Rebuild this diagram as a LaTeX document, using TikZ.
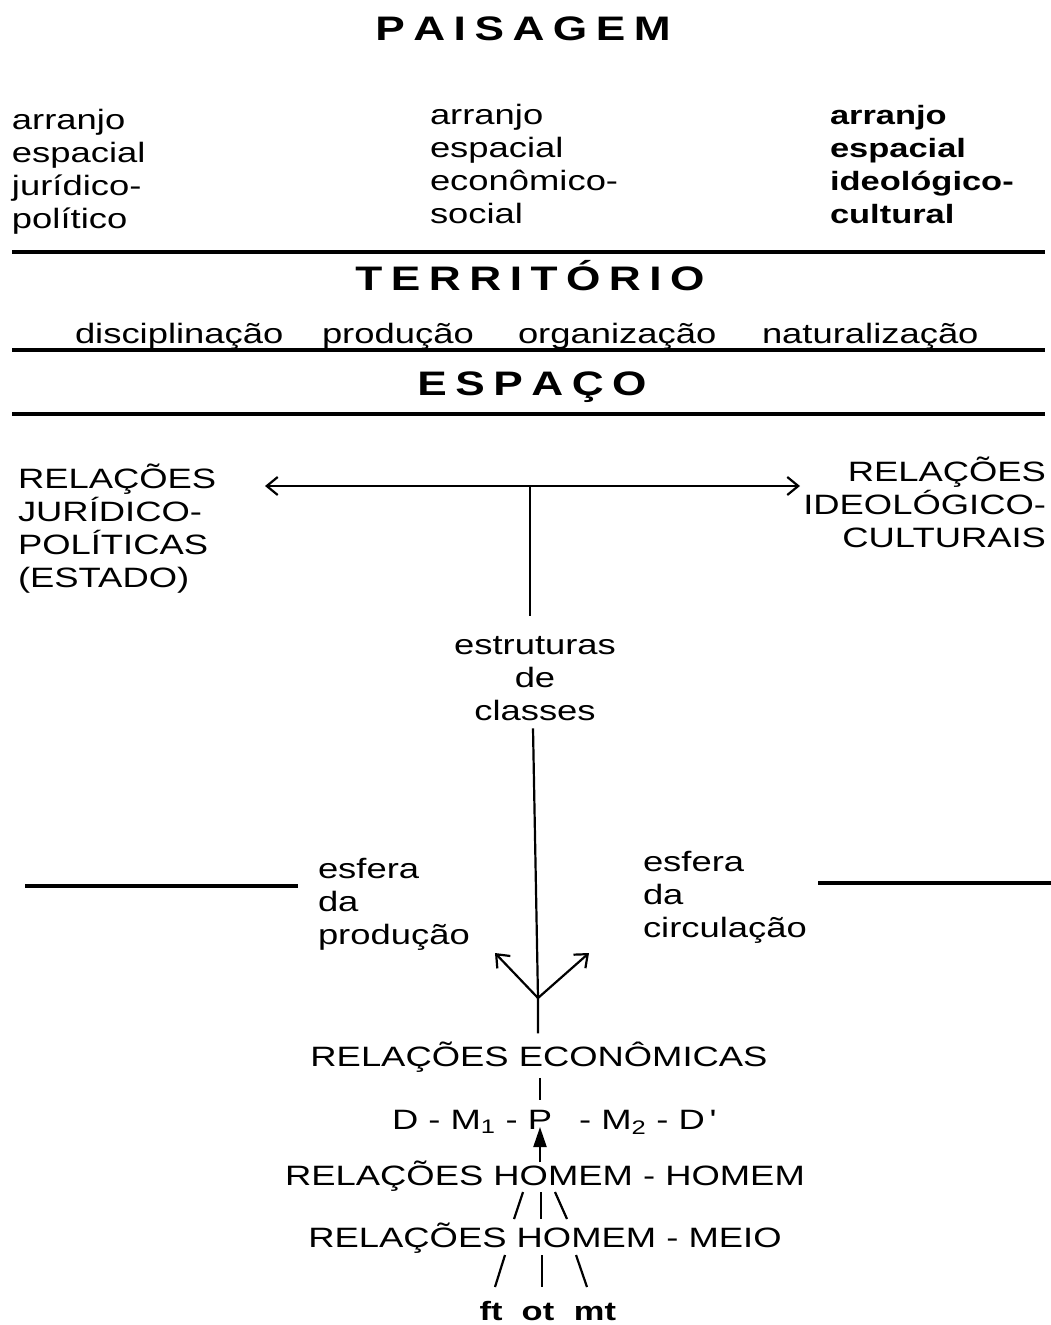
\documentclass[tikz,border=0pt]{standalone}
\usepackage{fontspec}
\setmainfont{Liberation Sans}[FakeStretch=1.3]
\usetikzlibrary{arrows.meta}
\tikzset{
  txt/.style={inner sep=0pt, outer sep=0pt, font=\fontsize{28}{33}\selectfont},
  colL/.style={txt, align=left, anchor=base west},
  colR/.style={txt, align=right, anchor=base east},
  colC/.style={txt, align=center, anchor=base},
  boldcol/.style={colL, font=\fontsize{26.5}{33}\selectfont\bfseries},
  headword/.style={inner sep=0pt, anchor=base, font=\fontsize{34}{40}\selectfont\bfseries},
  sepline/.style={line width=4.5pt},
  thin/.style={line width=2.2pt},
  barb/.style={thin, -{Straight Barb[length=11pt,width=18pt,line width=2.2pt]}},
  dbarb/.style={thin, {Straight Barb[length=11pt,width=18pt,line width=2.2pt]}-{Straight Barb[length=11pt,width=18pt,line width=2.2pt]}},
  solidtip/.style={thin, -{Triangle[length=20pt,width=13pt]}}
}
\begin{document}
\begin{tikzpicture}[x=1pt,y=-1pt]
\useasboundingbox (0,0) rectangle (1051,1325);

% headings
\node[headword] (paisagem) at (523,40) {P\kern8.5pt A\kern8.5pt I\kern8.5pt S\kern8.5pt A\kern8.5pt G\kern8.5pt E\kern8.5pt M};
\node[headword] (territorio) at (530,290) {T\kern8.5pt E\kern8.5pt R\kern8.5pt R\kern8.5pt I\kern8.5pt T\kern8.5pt Ó\kern8.5pt R\kern8.5pt I\kern8.5pt O};
\node[headword] (espaco) at (532,395) {E\kern8.5pt S\kern8.5pt P\kern8.5pt A\kern8.5pt Ç\kern8.5pt O};

% arranjos (base = baseline of the last line)
\node[colL] (arrJP) at (12,228) {arranjo\\espacial\\jurídico-\\político};
\node[colL] (arrES) at (430,223) {arranjo\\espacial\\econômico-\\social};
\node[boldcol] (arrIC) at (830,223) {arranjo\\espacial\\ideológico-\\cultural};

% separators
\draw[sepline] (12,252) -- (1045,252);
\draw[sepline] (12,350) -- (1045,350);
\draw[sepline] (12,414) -- (1045,414);

% territory functions
\node[colL] (disc) at (75,343) {disciplinação};
\node[colL] (prod) at (322,343) {produção};
\node[colL] (org) at (518,343) {organização};
\node[colL] (nat) at (762,343) {naturalização};

% relations
\node[colL] (rjp) at (18,587) {RELAÇÕES\\JURÍDICO-\\POLÍTICAS\\(ESTADO)};
\node[colR] (ric) at (1046,547) {RELAÇÕES\\IDEOLÓGICO-\\CULTURAIS};
\coordinate (hL) at (265,486);
\coordinate (hR) at (800,486);
\coordinate (hM) at (530,486);
\draw[dbarb] (hL) -- (hR);

\node[colC] (estr) at (535,720) {estruturas\\de\\classes};
\draw[thin] (hM) -- ([yshift=20pt]estr.north -| hM);

\node[colL] (esfP) at (318,944) {esfera\\da\\produção};
\node[colL] (esfC) at (643,937) {esfera\\da\\circulação};
\draw[sepline] (25,886) -- (298,886);
\draw[sepline] (818,883) -- (1051,883);

\node[colC] (econ) at (539,1066) {RELAÇÕES ECONÔMICAS};
\coordinate (jn) at (538,998);
\coordinate (tipP) at (495,953);
\coordinate (tipC) at (589,953);
\draw[thin] ([yshift=-8pt]estr.south -| 533,0) -- (jn) -- ([yshift=8pt]econ.north -| jn);
\draw[barb] (jn) -- (tipP);
\draw[barb] (jn) -- (tipC);

% D - M1 - P - M2 - D'
\node[txt, anchor=base] (P) at (540,1129) {P};
\node[txt, anchor=base east] (dm1) at ([xshift=-10pt]P.base west) {D - M\textsubscript{1} -};
\node[txt, anchor=base west] (dm2) at ([xshift=27pt]P.base east) {- M\textsubscript{2} - D\,\textquotesingle};
\draw[thin] ([yshift=-6pt]econ.south -| P) -- ([yshift=10pt]P.north);

\node[colC] (hh) at (545,1185) {RELAÇÕES HOMEM - HOMEM};
\draw[solidtip] ([yshift=-2pt]hh.north -| P) -- ([yshift=2pt]P.south);

\coordinate (a1) at (523,1192); \coordinate (a2) at (514,1219);
\coordinate (b1) at (541,1192); \coordinate (b2) at (541,1219);
\coordinate (c1) at (555,1192); \coordinate (c2) at (567,1219);
\draw[thin] (a1) -- (a2);
\draw[thin] (b1) -- (b2);
\draw[thin] (c1) -- (c2);

\node[colC] (hm) at (545,1247) {RELAÇÕES HOMEM - MEIO};

\node[txt, anchor=base, font=\fontsize{26.5}{33}\selectfont\bfseries] (ft) at (491,1320) {ft};
\node[txt, anchor=base, font=\fontsize{26.5}{33}\selectfont\bfseries] (ot) at (538,1320) {ot};
\node[txt, anchor=base, font=\fontsize{26.5}{33}\selectfont\bfseries] (mt) at (595,1320) {mt};
\coordinate (d1) at (505,1255); \coordinate (d2) at (495,1287);
\coordinate (e1) at (542,1255); \coordinate (e2) at (542,1287);
\coordinate (f1) at (576,1255); \coordinate (f2) at (587,1287);
\draw[thin] (d1) -- (d2);
\draw[thin] (e1) -- (e2);
\draw[thin] (f1) -- (f2);
\end{tikzpicture}
\end{document}
